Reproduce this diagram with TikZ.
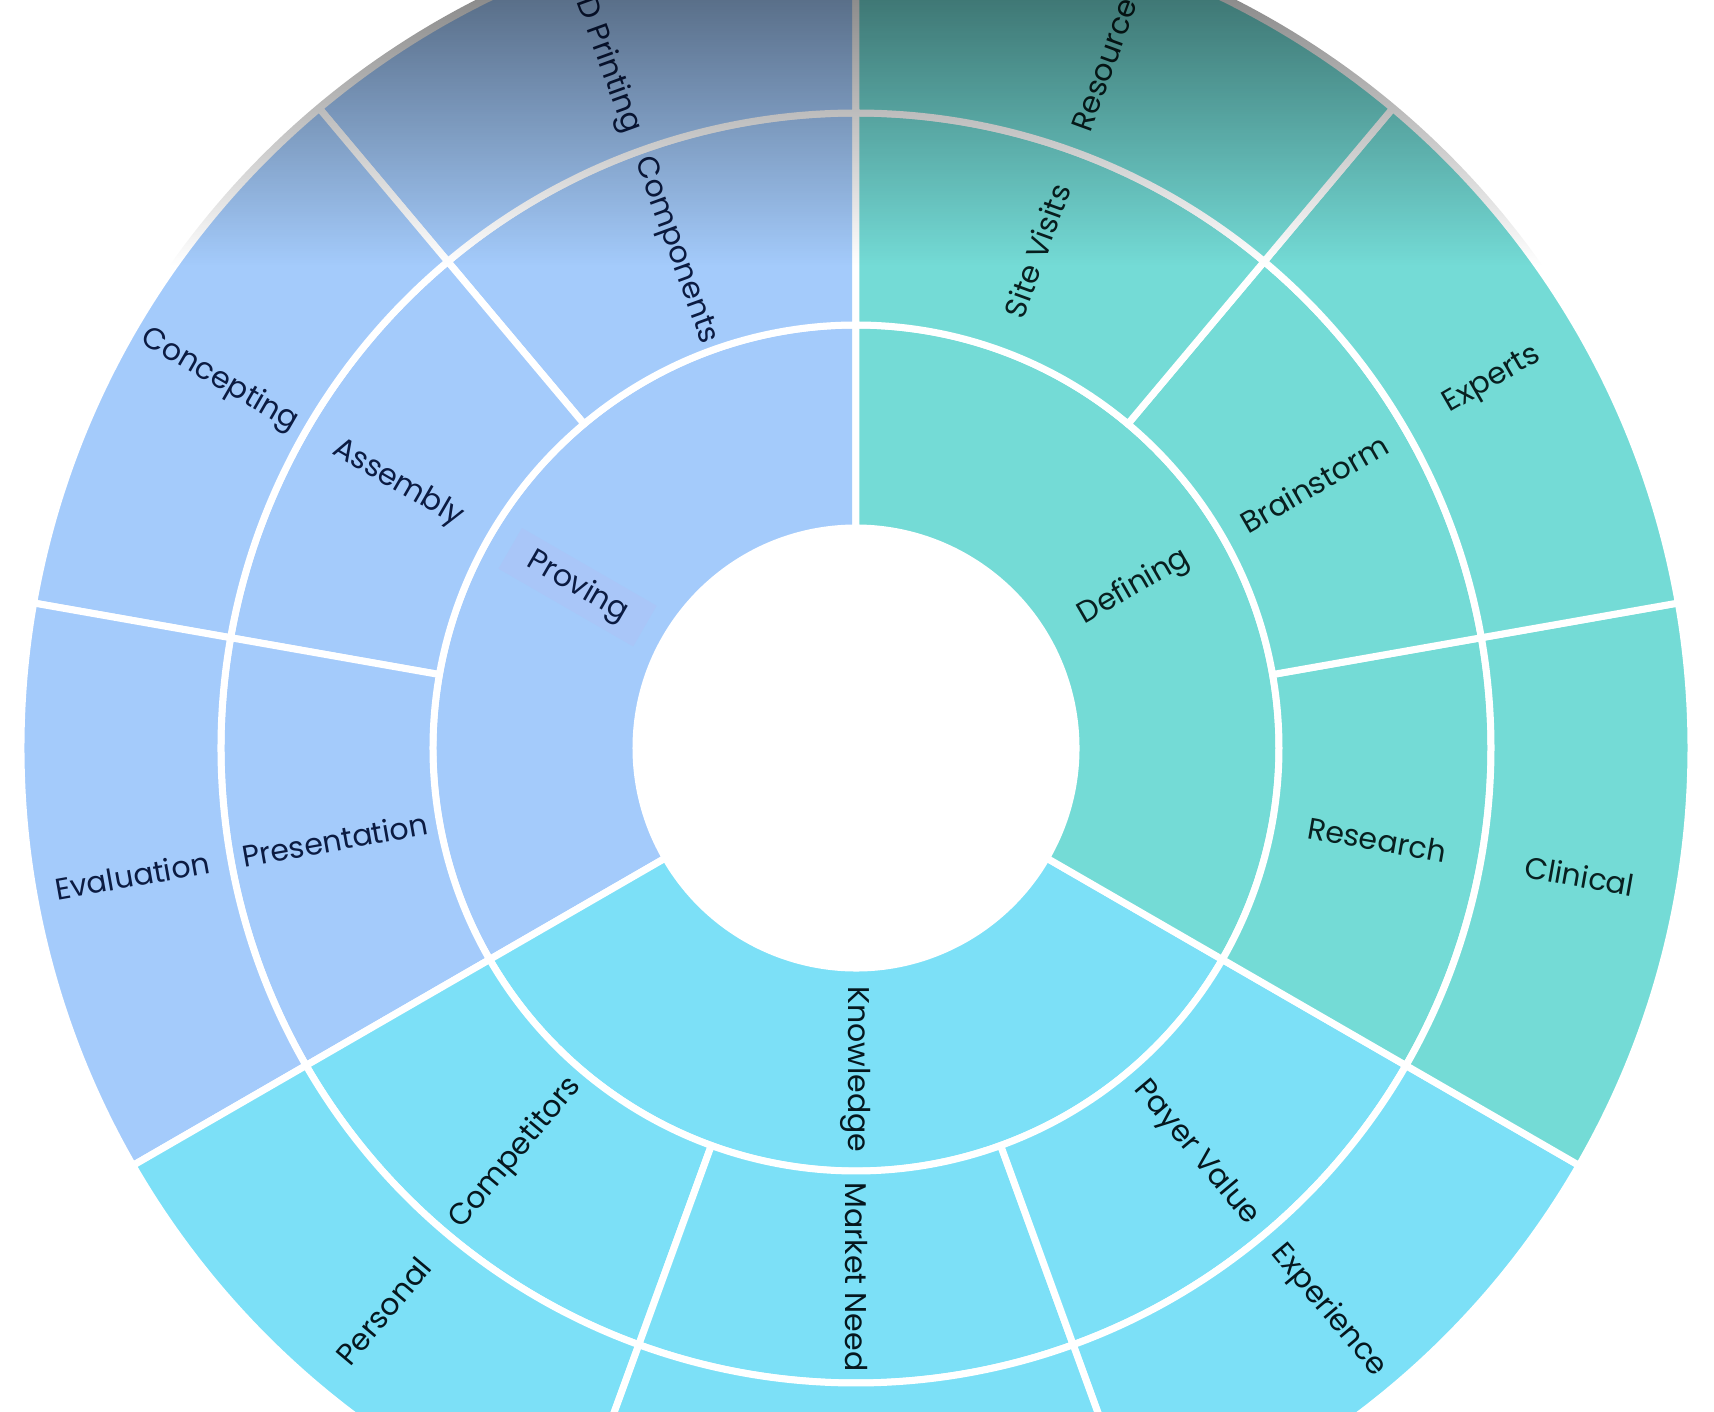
\documentclass[tikz,border=0pt]{standalone}
\usepackage{fontspec}
\setmainfont{Poppins}
\usetikzlibrary{fadings}

\definecolor{prove}{HTML}{A4CBFB}
\definecolor{define}{HTML}{74DBD6}
\definecolor{know}{HTML}{7CE0F7}
\definecolor{provehl}{HTML}{A9C6F8}
\definecolor{provetext}{HTML}{0B1B42}
\definecolor{definetext}{HTML}{082020}
\definecolor{knowtext}{HTML}{05171E}

\tikzfading[name=topshade, top color=transparent!55, bottom color=transparent!100]

\begin{document}
\begin{tikzpicture}[x=0.5pt, y=0.5pt,
    wedge/.style={draw=white, line width=3.5pt, line join=round},
    label/.style={font=\fontsize{15}{18}\selectfont, inner sep=1pt},
    plain/.style={},
    marked/.style={fill=provehl, inner xsep=11pt, inner ysep=4pt}
  ]
  \useasboundingbox (-856,-664) rectangle (858,748);

  % start/end angle, inner/outer radius, colours, name, text
  \foreach \a/\b/\ri/\ro/\col/\tcol/\name/\txt/\sty in {
      90/210/220/423/prove/provetext/proving/Proving/marked,
      210/330/220/423/know/knowtext/knowledge/Knowledge/plain,
      -30/90/220/423/define/definetext/defining/Defining/plain,
      90/130/423/635/prove/provetext/components/Components/plain,
      130/170/423/635/prove/provetext/assembly/Assembly/plain,
      170/210/423/635/prove/provetext/presentation/Presentation/plain,
      210/250/423/635/know/knowtext/competitors/Competitors/plain,
      250/290/423/635/know/knowtext/marketneed/Market Need/plain,
      290/330/423/635/know/knowtext/payervalue/Payer Value/plain,
      -30/10/423/635/define/definetext/research/Research/plain,
      10/50/423/635/define/definetext/brainstorm/Brainstorm/plain,
      50/90/423/635/define/definetext/sitevisits/Site Visits/plain,
      90/130/635/835/prove/provetext/printing/3D Printing/plain,
      130/170/635/835/prove/provetext/concepting/Concepting/plain,
      170/210/635/835/prove/provetext/evaluation/Evaluation/plain,
      210/250/635/835/know/knowtext/personal/Personal/plain,
      290/330/635/835/know/knowtext/experience/Experience/plain,
      -30/10/635/835/define/definetext/clinical/Clinical/plain,
      10/50/635/835/define/definetext/experts/Experts/plain,
      50/90/635/835/define/definetext/resources/Resources/plain}
  {
    \filldraw[wedge, fill=\col] (\a:\ri) arc[start angle=\a, end angle=\b, radius=\ri]
      -- (\b:\ro) arc[start angle=\b, end angle=\a, radius=\ro] -- cycle;
    \pgfmathsetmacro\mid{(\a+\b)/2}
    \pgfmathsetmacro\rmid{(\ri+\ro)/2}
    \pgfmathsetmacro\rot{cos(\mid) > -0.01 ? \mid : \mid-180}
    \node[label, \sty, text=\tcol, rotate=\rot] (\name) at (\mid:\rmid) {\txt};
  }
  % outer segment at the bottom, its text lies below the page
  \filldraw[wedge, fill=know] (250:635) arc[start angle=250, end angle=290, radius=635]
    -- (290:835) arc[start angle=290, end angle=250, radius=835] -- cycle;

  % dark shade over the top of the chart
  \begin{scope}
    \clip (0,0) circle[radius=839];
    \fill[black, path fading=topshade] (-856,483) rectangle (858,748);
  \end{scope}
\end{tikzpicture}
\end{document}
